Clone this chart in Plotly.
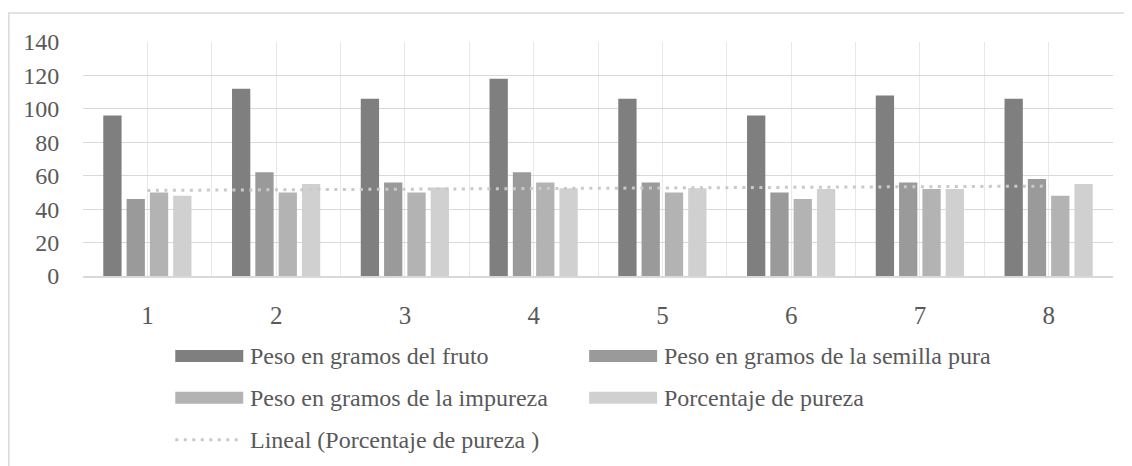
import numpy as np
import plotly.graph_objects as go

# ---- data ----
categories = [1, 2, 3, 4, 5, 6, 7, 8]
peso_fruto = [96, 112, 106, 118, 106, 96, 108, 106]
peso_semilla = [46, 62, 56, 62, 56, 50, 56, 58]
peso_impureza = [50, 50, 50, 56, 50, 46, 52, 48]
pct_pureza = [48, 55, 53, 52.5, 52.5, 52, 52, 55]
y_ticks = [0, 20, 40, 60, 80, 100, 120, 140]

series_names = [
    "Peso en gramos del fruto",
    "Peso en gramos de la semilla pura",
    "Peso en gramos de la impureza",
    "Porcentaje de pureza",
]
trend_name = "Lineal (Porcentaje de pureza )"
colors = ["#7f7f7f", "#9a9a9a", "#b3b3b3", "#d0d0d0"]
trend_color = "#c9c9c9"
text_color = "#595959"
grid_color = "#d9d9d9"
FONT = "Liberation Serif, Times New Roman, serif"

# linear trendline through the purity series (as Excel's "Lineal")
coef = np.polyfit(categories, pct_pureza, 1)
trend = list(np.polyval(coef, categories))

# the page body has an 8px default margin; lay out in screenshot coordinates
OFF = 8
W, H = 1132 - OFF, 466 - OFF
PL, PR, PT, PB = 82.7 - OFF, 1113 - OFF, 41.7 - OFF, 276 - OFF
ML, MR, MT, MB = PL, W - PR, PT, H - PB
PW, PH = PR - PL, PB - PT


def px(x):
    return (x - OFF - ML) / PW


def py(y):
    return (PB - (y - OFF)) / PH


fig = go.Figure()
for name, vals, col in zip(series_names, [peso_fruto, peso_semilla, peso_impureza, pct_pureza], colors):
    fig.add_trace(go.Bar(x=categories, y=vals, name=name, marker=dict(color=col, line=dict(width=0)),
                         showlegend=False))
fig.add_trace(go.Scatter(x=categories, y=trend, mode="lines", name=trend_name,
                         line=dict(color=trend_color, width=3, dash="3px,5.5px"), showlegend=False))

shapes = []
annotations = []
# outer chart border (left and top visible in the reference)
shapes.append(dict(type="rect", xref="paper", yref="paper", x0=px(8.5), x1=px(1160), y0=py(520), y1=py(12.7),
                   line=dict(color=grid_color, width=1.5), fillcolor="rgba(0,0,0,0)", layer="below"))

# custom legend (screenshot pixel positions)
legend_items = [
    (175, 356, "bar", colors[0], series_names[0]),
    (589, 356, "bar", colors[1], series_names[1]),
    (175, 398, "bar", colors[2], series_names[2]),
    (589, 398, "bar", colors[3], series_names[3]),
    (175, 440, "line", trend_color, trend_name),
]
for x0, yc, kind, col, label in legend_items:
    if kind == "bar":
        shapes.append(dict(type="rect", xref="paper", yref="paper", x0=px(x0), x1=px(x0 + 68),
                           y0=py(yc + 6), y1=py(yc - 6), fillcolor=col, line=dict(width=0)))
    else:
        shapes.append(dict(type="line", xref="paper", yref="paper", x0=px(x0), x1=px(x0 + 68),
                           y0=py(yc), y1=py(yc), line=dict(color=col, width=3, dash="3px,5.5px")))
    annotations.append(dict(xref="paper", yref="paper", x=px(x0 + 73), y=py(yc), text=label,
                            showarrow=False, xanchor="left", yanchor="middle",
                            font=dict(family=FONT, size=24, color=text_color)))

fig.update_layout(
    width=W, height=H,
    margin=dict(l=ML, r=MR, t=MT, b=MB, pad=0),
    paper_bgcolor="white", plot_bgcolor="white",
    barmode="group", bargap=0.276, bargroupgap=0.215,
    shapes=shapes, annotations=annotations,
    showlegend=False,
    font=dict(family=FONT, color=text_color),
)
fig.update_xaxes(
    range=[0.5, 8.5], tickmode="linear", tick0=1, dtick=1,
    showgrid=True, gridcolor="#e8e8e8", gridwidth=1,
    minor=dict(tick0=0.5, dtick=1, showgrid=True, gridcolor="#e8e8e8", gridwidth=1),
    showline=True, linecolor=grid_color, linewidth=1.5, mirror=False,
    ticks="outside", ticklen=16, tickcolor="rgba(0,0,0,0)",
    tickfont=dict(family=FONT, size=25, color=text_color), zeroline=False,
)
fig.update_yaxes(
    range=[0, 140], tickvals=y_ticks, ticktext=[str(v) for v in y_ticks],
    showgrid=True, gridcolor=grid_color, gridwidth=1,
    showline=False, zeroline=False,
    ticks="outside", ticklen=18, tickcolor="rgba(0,0,0,0)",
    tickfont=dict(family=FONT, size=24, color=text_color),
)

fig.write_html("out.html")
